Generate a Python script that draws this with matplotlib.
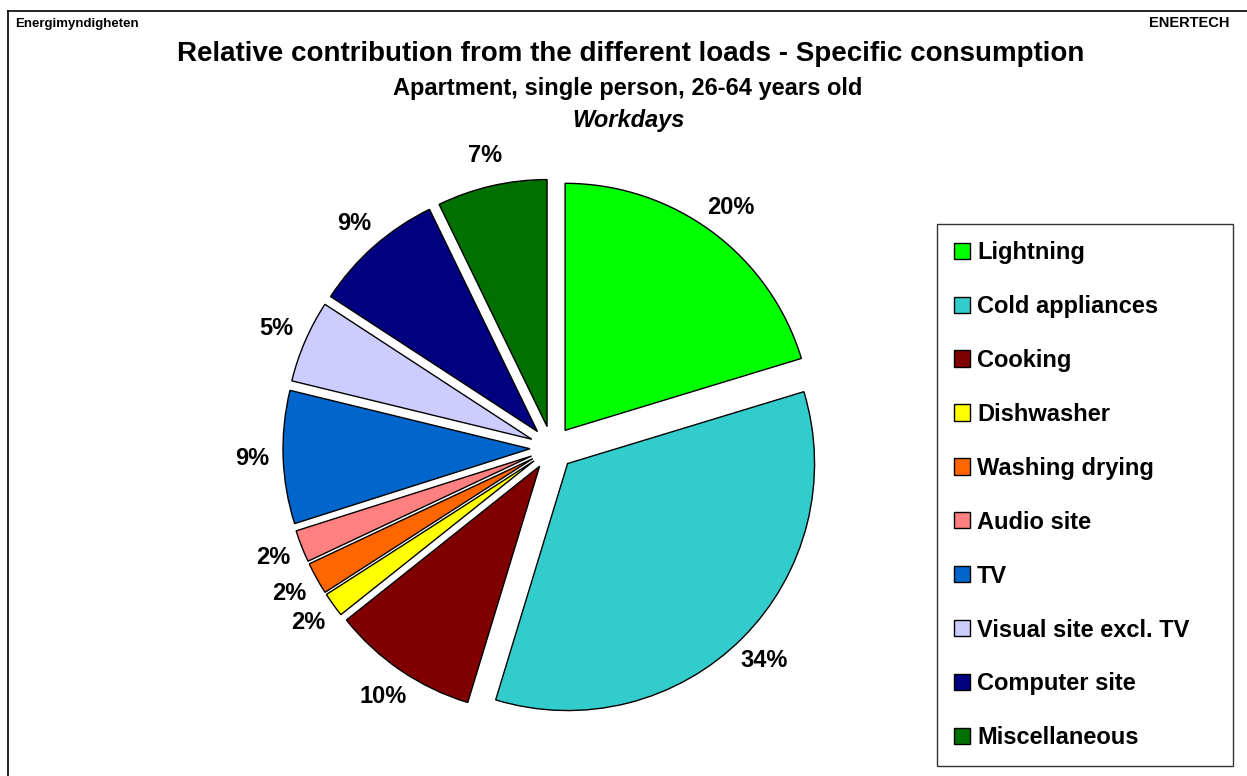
import matplotlib
matplotlib.use("Agg")
import matplotlib.pyplot as plt
from matplotlib.lines import Line2D

plt.rcParams['font.family'] = ['Liberation Sans', 'DejaVu Sans']

# data (share of specific consumption, %)
loads = ["Lightning", "Cold appliances", "Cooking", "Dishwasher", "Washing drying",
         "Audio site", "TV", "Visual site excl. TV", "Computer site", "Miscellaneous"]
shares = [20.3, 34.4, 9.6, 1.6, 2.1, 2.1, 8.7, 5.4, 8.6, 7.2]
colors = ["#00FF00", "#33CCCC", "#800000", "#FFFF00", "#FF6600",
          "#FF8080", "#0066CC", "#CCCCFF", "#000080", "#007000"]

W, H = 1247, 776
fig = plt.figure(figsize=(W / 100, H / 100), dpi=100)
ax = fig.add_axes([0, 0, 1, 1])

# pie drawn in pixel-like units so the geometry follows the picture
wedges, texts, autotexts = ax.pie(
    shares, colors=colors, startangle=90, counterclock=False,
    explode=[22] * len(shares), radius=247, center=(552, H - 448),
    autopct='%.0f%%', pctdistance=1.125, frame=True,
    wedgeprops=dict(edgecolor='black', linewidth=1),
    textprops=dict(fontsize=17, fontweight='bold', color='black'))
ax.set_xlim(0, W)
ax.set_ylim(0, H)
ax.axis('off')

# titles
fig.text(631 / W, 1 - 54 / H, "Relative contribution from the different loads - Specific consumption",
         ha='center', va='center', fontsize=20, fontweight='bold')
fig.text(628 / W, 1 - 88 / H, "Apartment, single person, 26-64 years old",
         ha='center', va='center', fontsize=17, fontweight='bold')
fig.text(628 / W, 1 - 121 / H, "Workdays",
         ha='center', va='center', fontsize=17, fontweight='bold', style='italic')
fig.text(15 / W, 1 - 24 / H, "Energimyndigheten", ha='left', va='center',
         fontsize=9.5, fontweight='bold')
fig.text(1229 / W, 1 - 23 / H, "ENERTECH", ha='right', va='center',
         fontsize=10.5, fontweight='bold')

# outer border (left and top visible)
fig.add_artist(Line2D([8 / W, 8 / W], [0, 1 - 11 / H], color='black', lw=1.2,
                      transform=fig.transFigure))
fig.add_artist(Line2D([8 / W, 1], [1 - 11 / H, 1 - 11 / H], color='black', lw=1.2,
                      transform=fig.transFigure))

leg = fig.legend(wedges, loads, loc='upper left', mode='expand',
                 bbox_to_anchor=(937 / W, 10 / H, 296 / W, 542 / H),
                 prop=dict(size=17, weight='bold'),
                 frameon=True, fancybox=False, shadow=False,
                 handlelength=0.68, handleheight=0.68, handletextpad=0.3,
                 labelspacing=1.31, borderpad=0.72, borderaxespad=0)
leg.get_frame().set_edgecolor('black')
leg.get_frame().set_linewidth(1)

fig.savefig("out.png", dpi=100)
